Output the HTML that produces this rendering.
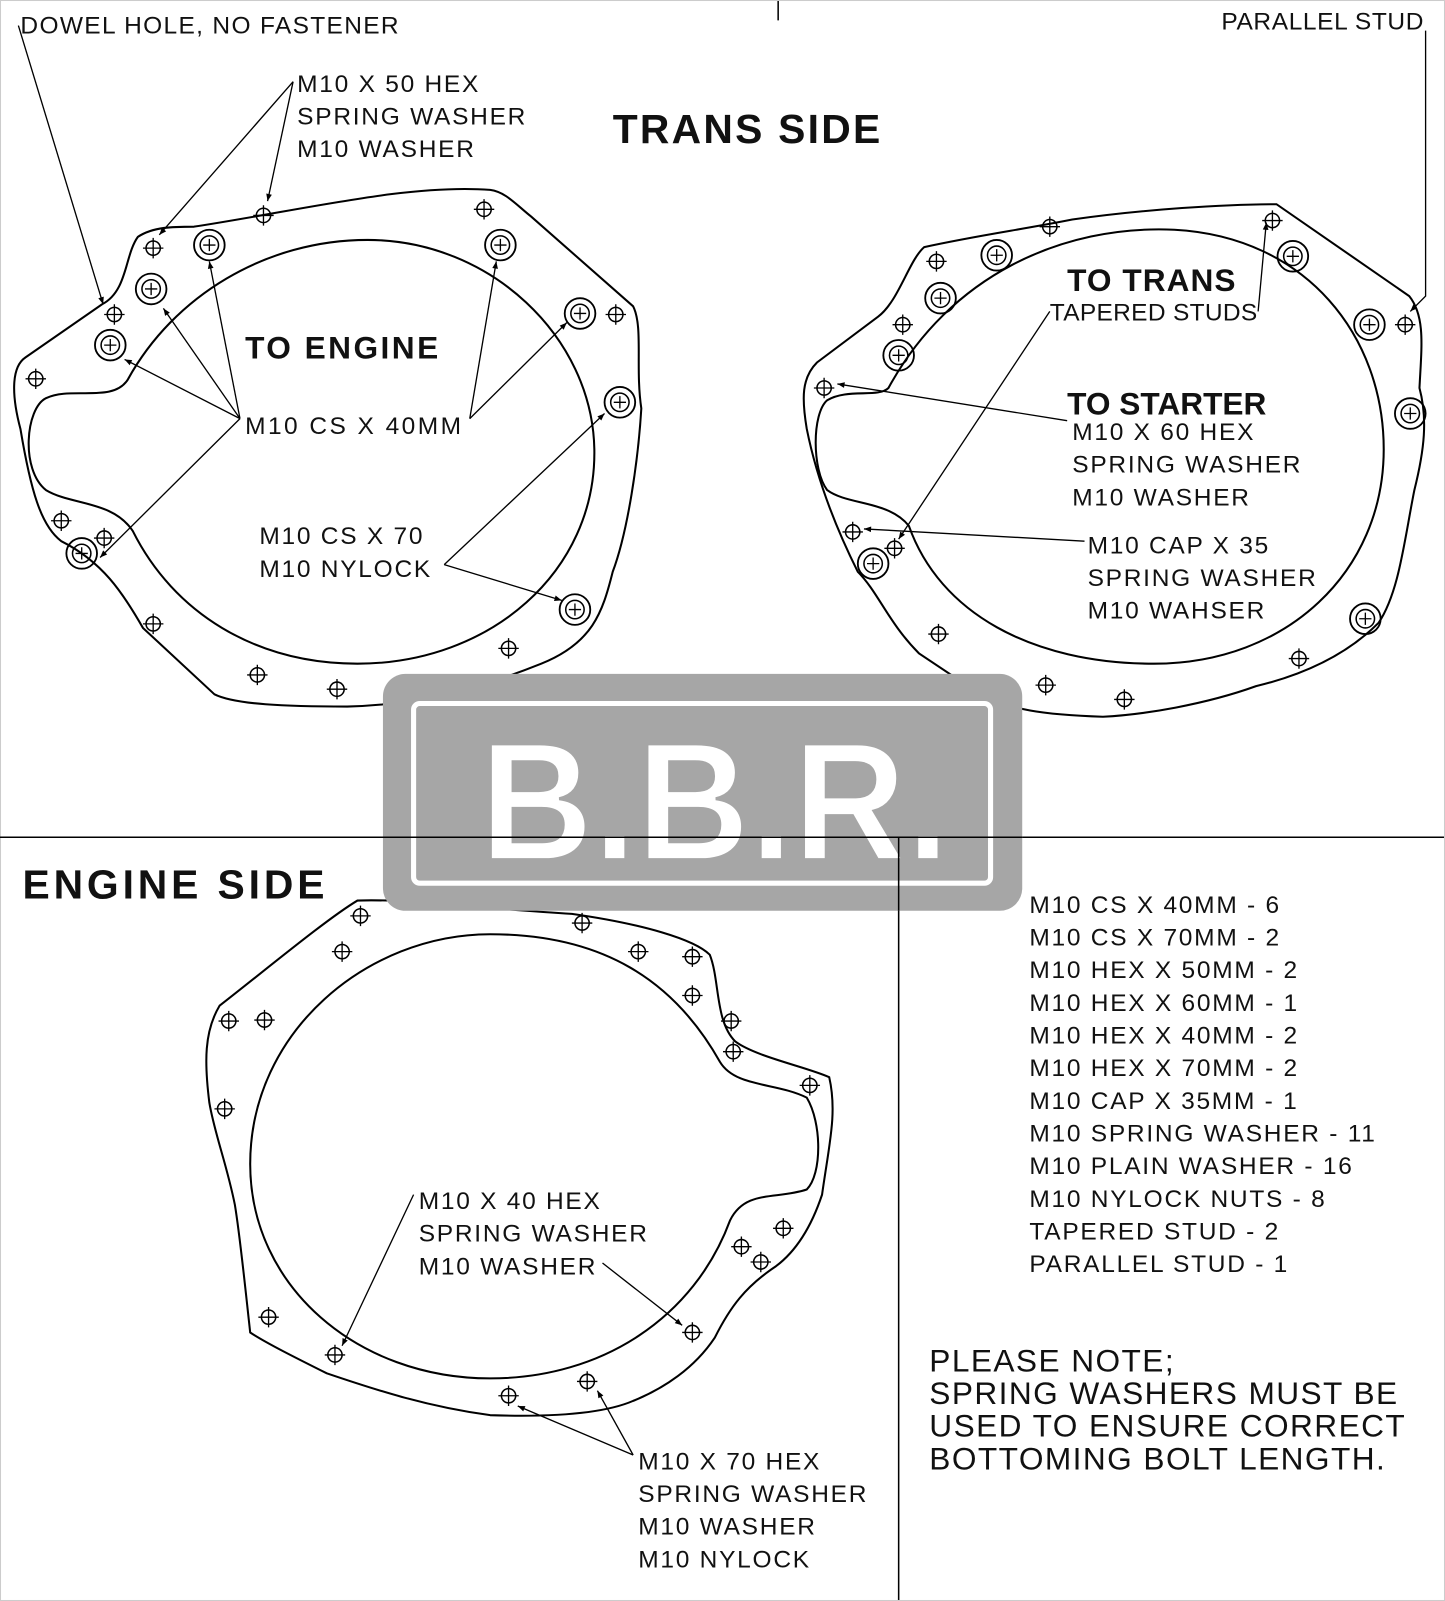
<!DOCTYPE html>
<html><head><meta charset="utf-8"><style>
html,body{margin:0;padding:0;background:#fff}
svg{display:block}
text{font-family:"Liberation Sans",sans-serif;fill:#111}
.l{font-size:24px;letter-spacing:1.7px}
.t{font-size:40px;font-weight:bold}
.s{font-size:31px;font-weight:bold}
.n{font-size:31px;letter-spacing:1.4px}
</style></head><body>
<svg width="1445" height="1601" viewBox="0 0 1415 1568" preserveAspectRatio="none" xmlns="http://www.w3.org/2000/svg">
<defs>
<marker id="a" viewBox="0 0 10 10" refX="10" refY="5" markerWidth="14" markerHeight="7" orient="auto" markerUnits="userSpaceOnUse"><path d="M0,1 L10,5 L0,9 Z" fill="#000"/></marker>
<g id="h"><circle r="7" fill="none" stroke="#000" stroke-width="1.5"/><path d="M-10,0H10M0,-10V10" stroke="#000" stroke-width="1.3"/></g>
<g id="H"><circle r="15" fill="none" stroke="#000" stroke-width="1.8"/><circle r="9" fill="none" stroke="#000" stroke-width="1.5"/><path d="M-6,0H6M0,-6V6" stroke="#000" stroke-width="1.3"/></g>
</defs>
<g fill="none" stroke="#000" stroke-width="2">
<path d="M0,820H1415M880,820V1568M762,0V20" stroke-width="1.5"/>
<rect x="0.5" y="0.5" width="1414" height="1567" stroke="#ccc" stroke-width="1"/>
<path d="M135,232 C150,222 170,222 190,222 C300,205 400,180 480,186 C495,188 505,200 520,212 L620,300 C630,320 622,360 628,400 C625,450 615,520 600,560 C590,600 580,630 530,650 C480,670 420,690 340,692 C280,692 230,690 210,680 L140,615 C120,580 100,550 60,530 C40,515 30,480 20,420 C12,390 10,360 25,350 L100,298 C125,285 122,250 135,232 Z"/>
<path d="M125,372 C170,290 260,235 360,235 C480,235 580,330 582,440 C584,560 480,650 350,650 C250,650 170,600 130,520 C110,490 70,495 45,480 C20,460 25,400 45,390 C70,378 110,395 125,372 Z"/>
<path d="M905,242 C960,230 1000,225 1050,215 C1120,205 1200,200 1250,200 L1380,290 C1396,310 1392,340 1390,380 C1398,410 1395,440 1385,480 C1375,530 1370,580 1350,610 C1320,640 1280,660 1230,672 C1180,690 1120,700 1080,702 C1020,700 990,695 960,680 L900,640 C870,610 860,580 840,560 C820,520 800,470 790,420 C785,390 785,370 800,355 L860,310 C880,295 890,255 905,242 Z"/>
<path d="M870,380 C930,270 1040,220 1150,225 C1280,232 1355,330 1355,440 C1355,560 1260,650 1130,650 C1010,650 920,600 890,515 C870,490 830,495 810,480 C795,460 795,405 810,392 C830,380 860,390 870,380 Z"/>
<path d="M215,985 C260,950 320,900 350,882 C400,880 470,890 560,895 C630,905 680,920 695,935 C705,960 700,1000 720,1020 C740,1035 790,1045 812,1055 C820,1090 812,1120 805,1170 C795,1200 780,1225 760,1240 C730,1260 715,1280 700,1310 C680,1340 650,1360 620,1372 C590,1385 540,1388 480,1386 C420,1378 370,1362 320,1345 C290,1330 260,1315 245,1305 C240,1260 235,1210 230,1180 C222,1140 210,1110 205,1080 C200,1040 200,1010 215,985 Z"/>
<path d="M245,1140 C245,1010 360,915 480,915 C590,915 660,960 705,1040 C720,1065 760,1060 790,1075 C805,1100 805,1150 790,1165 C760,1175 730,1165 715,1195 C680,1290 590,1350 480,1350 C350,1350 245,1260 245,1140 Z"/>
</g>
<g>
<use href="#h" x="150" y="243"/><use href="#h" x="258" y="211"/><use href="#h" x="474" y="205"/><use href="#h" x="112" y="308"/><use href="#h" x="35" y="371"/><use href="#h" x="603" y="308"/><use href="#h" x="60" y="510"/><use href="#h" x="102" y="527"/><use href="#h" x="150" y="611"/><use href="#h" x="252" y="661"/><use href="#h" x="330" y="675"/><use href="#h" x="498" y="635"/>
<use href="#H" x="205" y="240"/><use href="#H" x="490" y="240"/><use href="#H" x="148" y="283"/><use href="#H" x="108" y="338"/><use href="#H" x="568" y="307"/><use href="#H" x="607" y="394"/><use href="#H" x="80" y="542"/><use href="#H" x="563" y="597"/>
<use href="#h" x="917" y="256"/><use href="#h" x="1028" y="222"/><use href="#h" x="1246" y="216"/><use href="#h" x="884" y="318"/><use href="#h" x="807" y="380"/><use href="#h" x="1376" y="318"/><use href="#h" x="835" y="521"/><use href="#h" x="876" y="537"/><use href="#h" x="919" y="621"/><use href="#h" x="1024" y="671"/><use href="#h" x="1101" y="685"/><use href="#h" x="1272" y="645"/>
<use href="#H" x="976" y="250"/><use href="#H" x="1266" y="251"/><use href="#H" x="921" y="292"/><use href="#H" x="880" y="348"/><use href="#H" x="1341" y="318"/><use href="#H" x="1381" y="405"/><use href="#H" x="855" y="552"/><use href="#H" x="1337" y="606"/>
<use href="#h" x="353" y="897"/><use href="#h" x="570" y="904"/><use href="#h" x="335" y="932"/><use href="#h" x="625" y="932"/><use href="#h" x="678" y="937"/><use href="#h" x="678" y="975"/><use href="#h" x="224" y="1000"/><use href="#h" x="259" y="999"/><use href="#h" x="716" y="1000"/><use href="#h" x="718" y="1030"/><use href="#h" x="793" y="1063"/><use href="#h" x="220" y="1086"/><use href="#h" x="767" y="1203"/><use href="#h" x="726" y="1221"/><use href="#h" x="745" y="1236"/><use href="#h" x="263" y="1290"/><use href="#h" x="678" y="1305"/><use href="#h" x="328" y="1327"/><use href="#h" x="498" y="1367"/><use href="#h" x="575" y="1353"/>
</g>
<g stroke="#000" stroke-width="1.3" fill="none" marker-end="url(#a)">
<path d="M18,25L101,298"/>
<path d="M287,80L156,230"/><path d="M287,80L262,197"/>
<path d="M235,410L122,352"/><path d="M235,410L160,302"/><path d="M235,410L205,256"/><path d="M235,410L98,546"/>
<path d="M460,410L486,256"/><path d="M460,410L555,316"/>
<path d="M435,553L592,405"/><path d="M435,553L550,588"/>
<path d="M1232,305L1240,218"/><path d="M1028,305L880,528"/>
<path d="M1396,30V290L1381,305"/>
<path d="M1045,412L820,376"/>
<path d="M1062,530L846,518"/>
<path d="M405,1170L335,1318"/><path d="M590,1237L668,1298"/>
<path d="M620,1425L507,1377"/><path d="M620,1425L585,1362"/>
</g>
<rect x="375" y="660" width="626" height="232" rx="22" fill="#a6a6a6"/>
<rect x="405" y="689" width="565" height="176" rx="6" fill="none" stroke="#fff" stroke-width="5"/>
<text x="470" y="842" textLength="460" lengthAdjust="spacingAndGlyphs" style="font-size:165px;font-weight:bold;fill:#fff;stroke:#a6a6a6;stroke-width:3">B.B.R.</text>
<path d="M0,820H1001M880,820V892" stroke="#000" stroke-width="1.5"/>
<text class="l" x="20" y="33" style="letter-spacing:1.3px">DOWEL HOLE, NO FASTENER</text>
<text class="l" x="1196" y="29" style="letter-spacing:0.6px">PARALLEL STUD</text>
<text class="l" x="291" y="90">M10 X 50 HEX</text><text class="l" x="291" y="122">SPRING WASHER</text><text class="l" x="291" y="154">M10 WASHER</text>
<text class="t" x="600" y="140" style="letter-spacing:2.2px">TRANS SIDE</text>
<text class="s" x="240" y="351" style="letter-spacing:2.4px">TO ENGINE</text>
<text class="l" x="240" y="425" style="letter-spacing:2.4px">M10 CS X 40MM</text>
<text class="l" x="254" y="533">M10 CS X 70</text><text class="l" x="254" y="565">M10 NYLOCK</text>
<text class="s" x="1045" y="285" style="letter-spacing:1px">TO TRANS</text>
<text class="l" x="1028" y="314" style="letter-spacing:0.3px">TAPERED STUDS</text>
<text class="s" x="1045" y="406">TO STARTER</text>
<text class="l" x="1050" y="431">M10 X 60 HEX</text><text class="l" x="1050" y="463">SPRING WASHER</text><text class="l" x="1050" y="495">M10 WASHER</text>
<text class="l" x="1065" y="542">M10 CAP X 35</text><text class="l" x="1065" y="574">SPRING WASHER</text><text class="l" x="1065" y="606">M10 WAHSER</text>
<text class="t" x="22" y="880" style="letter-spacing:3.8px">ENGINE SIDE</text>
<text class="l" x="410" y="1184">M10 X 40 HEX</text><text class="l" x="410" y="1216">SPRING WASHER</text><text class="l" x="410" y="1248">M10 WASHER</text>
<text class="l" x="625" y="1439">M10 X 70 HEX</text><text class="l" x="625" y="1471">SPRING WASHER</text><text class="l" x="625" y="1503">M10 WASHER</text><text class="l" x="625" y="1535">M10 NYLOCK</text>
<text class="l" x="1008" y="894">M10 CS X 40MM - 6</text>
<text class="l" x="1008" y="926">M10 CS X 70MM - 2</text>
<text class="l" x="1008" y="958">M10 HEX X 50MM - 2</text>
<text class="l" x="1008" y="990">M10 HEX X 60MM - 1</text>
<text class="l" x="1008" y="1022">M10 HEX X 40MM - 2</text>
<text class="l" x="1008" y="1054">M10 HEX X 70MM - 2</text>
<text class="l" x="1008" y="1086">M10 CAP X 35MM - 1</text>
<text class="l" x="1008" y="1118">M10 SPRING WASHER - 11</text>
<text class="l" x="1008" y="1150">M10 PLAIN WASHER - 16</text>
<text class="l" x="1008" y="1182">M10 NYLOCK NUTS - 8</text>
<text class="l" x="1008" y="1214">TAPERED STUD - 2</text>
<text class="l" x="1008" y="1246">PARALLEL STUD - 1</text>
<text class="n" x="910" y="1343">PLEASE NOTE;</text>
<text class="n" x="910" y="1375">SPRING WASHERS MUST BE</text>
<text class="n" x="910" y="1407">USED TO ENSURE CORRECT</text>
<text class="n" x="910" y="1439">BOTTOMING BOLT LENGTH.</text>
</svg>
</body></html>
